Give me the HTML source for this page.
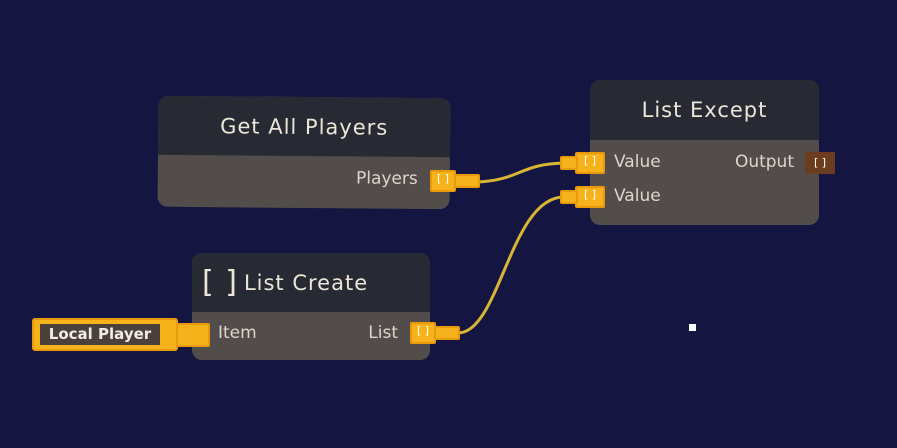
<!DOCTYPE html>
<html><head><style>
body{margin:0;width:897px;height:448px;background:#141540;position:relative;overflow:hidden;font-family:"DejaVu Sans","Liberation Sans",sans-serif;}
.n{position:absolute;border-radius:10px;overflow:hidden;background:#524c4a;}
.h{background:#272a33;color:#ece6d8;font-size:21px;letter-spacing:1px;display:flex;align-items:center;justify-content:center;}
.t{position:absolute;color:#ddd6cc;font-size:17px;}
.p{position:absolute;background:#f5b21a;border:2px solid #e89a0c;border-radius:2px;color:#fff;font-size:11px;text-align:center;box-sizing:border-box;}
</style></head><body>
<svg width="897" height="448" style="position:absolute;left:0;top:0">
<path d="M478 182 C520 180,520 164,564 163" stroke="#d8b535" stroke-width="3" fill="none"/>
<path d="M458 333 C500 333,510 197,564 197" stroke="#d8b535" stroke-width="3" fill="none"/>
<rect x="689" y="324" width="7" height="7" fill="#fff"/>
</svg>
<div class="n" style="left:158px;top:97px;width:292px;height:111px;transform:rotate(0.5deg)">
<div class="h" style="height:59px">Get All Players</div>
<div class="t" style="right:32px;top:71px">Players</div></div>
<div class="n" style="left:590px;top:80px;width:229px;height:145px">
<div class="h" style="height:60px">List Except</div>
<div class="t" style="left:24px;top:72px">Value</div>
<div class="t" style="left:24px;top:106px">Value</div>
<div class="t" style="right:25px;top:72px">Output</div></div>
<div class="n" style="left:192px;top:253px;width:238px;height:107px">
<div class="h" style="height:59px;justify-content:flex-start;padding-left:10px"><span style="font-size:30px;margin-right:6px">[ ]</span>List Create</div>
<div class="t" style="left:26px;top:70px">Item</div>
<div class="t" style="right:32px;top:70px">List</div></div>
<div class="p" style="left:430px;top:170px;width:26px;height:22px">[ ]</div>
<div class="p" style="left:454px;top:174px;width:26px;height:14px"></div>
<div class="p" style="left:575px;top:152px;width:30px;height:22px">[ ]</div>
<div class="p" style="left:560px;top:156px;width:18px;height:14px"></div>
<div class="p" style="left:575px;top:186px;width:30px;height:22px">[ ]</div>
<div class="p" style="left:560px;top:190px;width:18px;height:14px"></div>
<div class="p" style="left:410px;top:322px;width:26px;height:22px">[ ]</div>
<div class="p" style="left:434px;top:326px;width:26px;height:14px"></div>
<div style="position:absolute;left:805px;top:152px;width:30px;height:22px;background:#6b3d1e;color:#fff;font-size:11px;text-align:center;line-height:22px">[ ]</div>
<div style="position:absolute;left:32px;top:318px;width:146px;height:33px;background:#f5b21a;border:2px solid #e89a0c;box-sizing:border-box;border-radius:3px"></div>
<div style="position:absolute;left:40px;top:324px;width:120px;height:21px;background:#4c403c;color:#f0ece6;font-weight:bold;font-size:15px;text-align:center;line-height:21px">Local Player</div>
<div class="p" style="left:176px;top:323px;width:34px;height:24px"></div>
</body></html>
